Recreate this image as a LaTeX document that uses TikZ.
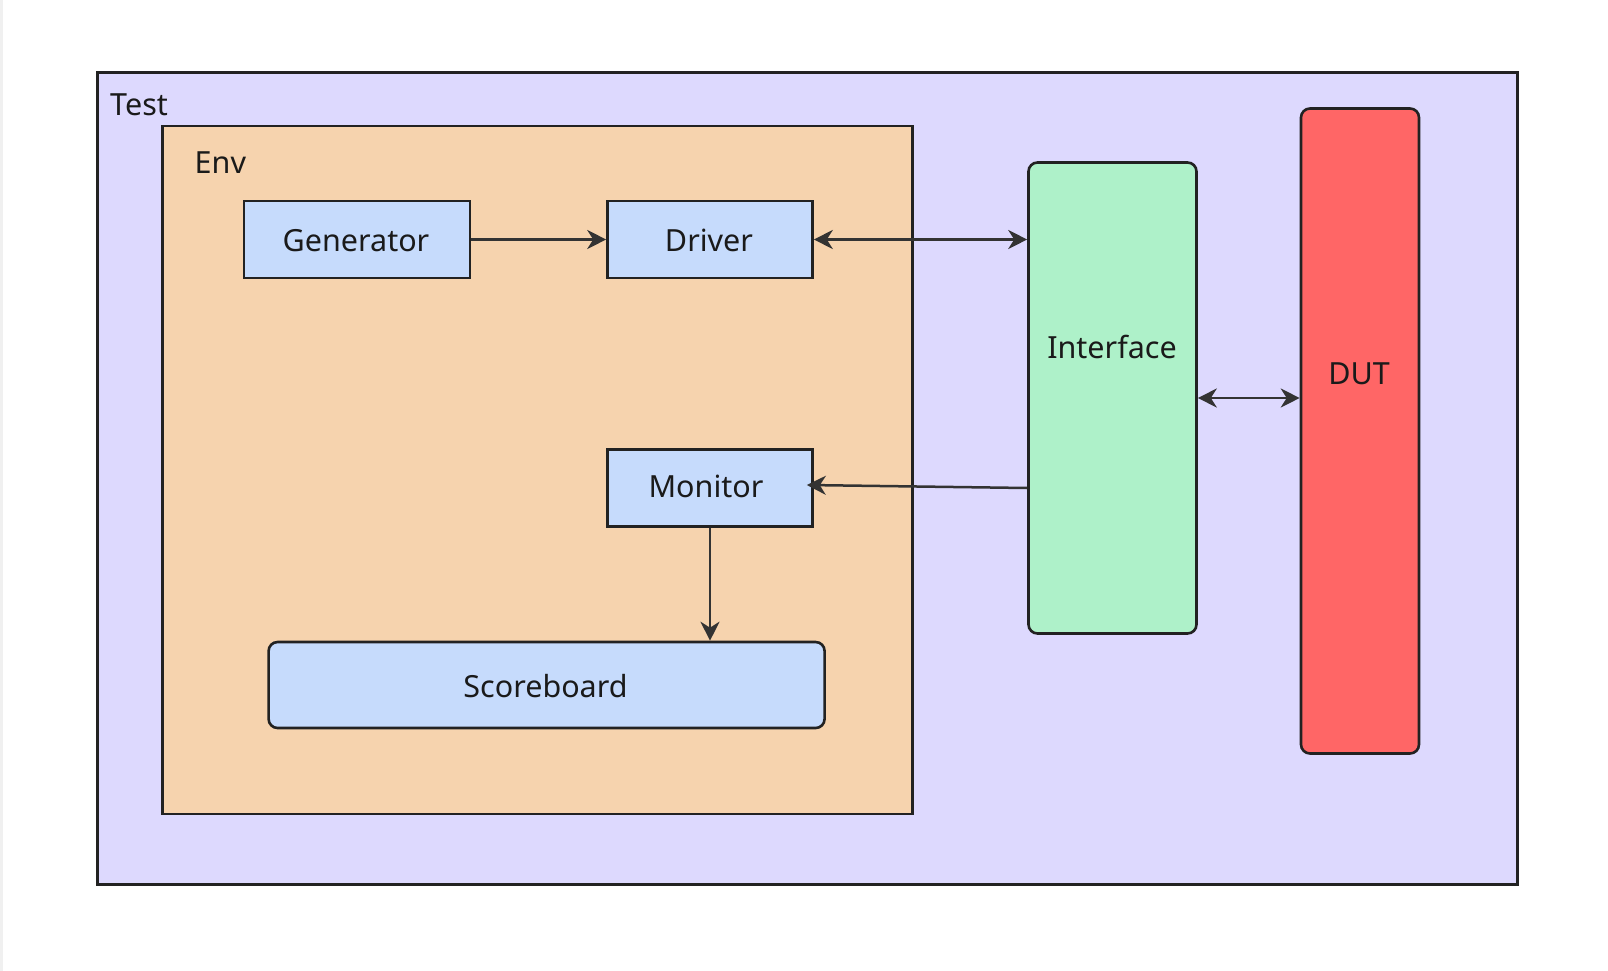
\documentclass[tikz,border=0pt]{standalone}
\usepackage{fontspec}
\setmainfont{Noto Sans}
\usetikzlibrary{arrows.meta,calc}
\definecolor{testfill}{HTML}{DDD9FE}
\definecolor{envfill}{HTML}{F6D3AE}
\definecolor{unitfill}{HTML}{C6DBFC}
\definecolor{iffill}{HTML}{AEF1C9}
\definecolor{dutfill}{HTML}{FF6666}
\definecolor{edge}{HTML}{222222}
\definecolor{wire}{HTML}{333333}
\definecolor{txt}{HTML}{1A1A1A}
\tikzset{
  frame/.style={draw=edge,line width=2.7pt,inner sep=0pt},
  unitbox/.style={frame,fill=unitfill,line width=2.6pt},
  roundbox/.style={frame,line width=2.6pt,rounded corners=9pt},
  lbl/.style={text=txt,font=\fontsize{30.5}{36}\selectfont,inner sep=0pt},
  tip/.style={Stealth[length=19pt,width=19pt,inset=6pt]},
  conn/.style={draw=wire,line width=2.5pt,-{Stealth[length=19pt,width=19pt,inset=6pt]}},
  biconn/.style={draw=wire,line width=2.5pt,{Stealth[length=19pt,width=19pt,inset=6pt]}-{Stealth[length=19pt,width=19pt,inset=6pt]}}
}
\begin{document}
\begin{tikzpicture}[x=1pt,y=-1pt]
\useasboundingbox (0,0) rectangle (1608,971);
\fill[white] (0,0) rectangle (1608,971);
\fill[gray!12] (0,0) rectangle (2.5,971);

% containers
\node[frame,fill=testfill,minimum width=1420pt,minimum height=812pt] (test) at (807.6,478.4) {};
\node[lbl,anchor=west] (testlbl) at (110,104.5) {Test};
\node[frame,fill=envfill,minimum width=750pt,minimum height=688pt] (env) at (537.2,470) {};
\node[lbl,anchor=west] (envlbl) at (194.5,163) {Env};

% environment units
\node[unitbox,minimum width=226pt,minimum height=77pt] (gen) at (357,239.5) {};
\node[lbl] (genlbl) at (356,240.5) {Generator};
\node[unitbox,minimum width=205pt,minimum height=77pt] (drv) at (710,239.5) {};
\node[lbl] (drvlbl) at (709,240.5) {Driver};
\node[unitbox,minimum width=205pt,minimum height=77pt] (mon) at (710,488) {};
\node[lbl] (monlbl) at (706,486.5) {Monitor};
\node[roundbox,fill=unitfill,minimum width=556pt,minimum height=86pt] (sb) at (546.6,685) {};
\node[lbl] (sblbl) at (545.5,686.5) {Scoreboard};

% interface and DUT
\node[roundbox,fill=iffill,minimum width=168pt,minimum height=471pt] (if) at (1112.5,398) {};
\node[lbl] (iflbl) at (1112,346.5) {Interface};
\node[roundbox,fill=dutfill,minimum width=118pt,minimum height=645pt] (dut) at (1360,431) {};
\node[lbl] (dutlbl) at (1359,373.5) {DUT};

% connections
\coordinate (ifmon) at ($(if.west)+(0,90)$);
\draw[conn] (gen.east) -- (drv.west);
\draw[biconn] (drv.east) -- (if.west |- drv.east);
\draw[conn] (ifmon) -- ($(mon.east)+(-7,-3)$);
\draw[biconn] (if.east) -- (dut.west |- if.east);
\draw[conn] (mon.south) -- (sb.north -| mon.south);
\end{tikzpicture}
\end{document}
